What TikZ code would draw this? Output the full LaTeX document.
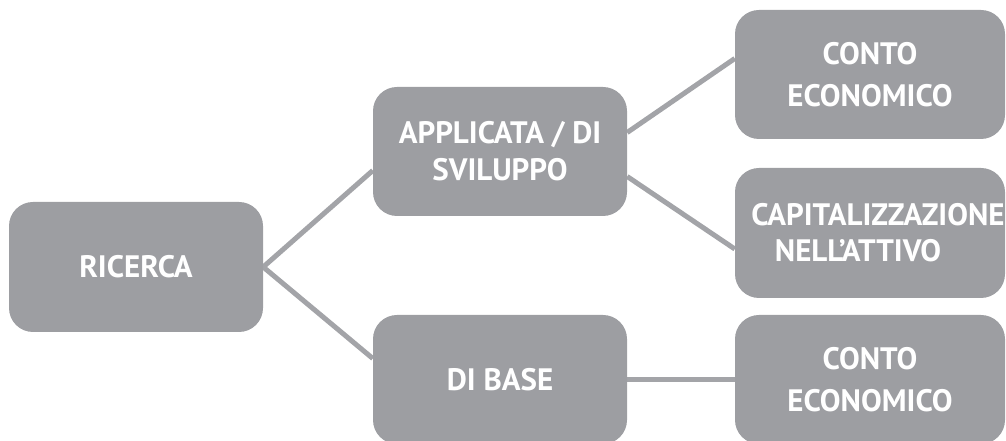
\documentclass[tikz,border=0pt]{standalone}
\usepackage{fontspec}
\setmainfont{PT Sans}
\usetikzlibrary{calc,backgrounds}
\definecolor{boxgray}{HTML}{9D9EA2}
\definecolor{linkgray}{HTML}{A3A4A8}
\tikzset{
  box/.style={fill=boxgray, rounded corners=24pt, minimum width=#1, text=white,
    font=\bfseries\fontsize{31}{37}\selectfont, align=center, inner sep=0pt},
  box/.default=254pt,
  tallgap/.style={font=\bfseries\fontsize{31}{42}\selectfont},
  link/.style={draw=linkgray, line width=5pt}
}
\begin{document}
\begin{tikzpicture}[x=1pt,y=1pt]
  \useasboundingbox (0,0) rectangle (1006,441);
  \clip (0,0) rectangle (1006,441);
  % first level
  \node[box, minimum height=130pt] (ric) at (136,174) {RICERCA};
  % second level
  \node[box, minimum height=129pt] (app) at (500,289.5)
    {APPLICATA / DI\\SVILUPPO};
  \node[box, minimum height=129pt] (base) at (500,61.5) {\raisebox{-3pt}{DI BASE}};
  % third level
  \node[box=270pt, minimum height=129pt, tallgap] (ce1) at (870,366.5)
    {CONTO\\ECONOMICO};
  \node[box=270pt, minimum height=130pt] (cap) at (870,208)
    {\makebox[0pt]{\hspace*{16pt}CAPITALIZZAZIONE}\\[-1pt]
     \makebox[0pt]{\hspace*{-24pt}NELL’ATTIVO}};
  \node[box=270pt, minimum height=129pt, tallgap] (ce2) at (870,61.5)
    {CONTO\\ECONOMICO};
  % connectors behind the boxes
  \begin{scope}[on background layer]
    \draw[link] (ric.east) -- ($(app.west)+(0,-19)$);
    \draw[link] (ric.east) -- ($(base.west)+(0,21)$);
    \draw[link] ($(app.east)+(0,19)$) -- ($(ce1.west)+(0,16)$);
    \draw[link] ($(app.east)+(0,-25)$) -- ($(cap.west)+(0,-16)$);
    \draw[link] (base.east) -- (ce2.west);
  \end{scope}
\end{tikzpicture}
\end{document}
